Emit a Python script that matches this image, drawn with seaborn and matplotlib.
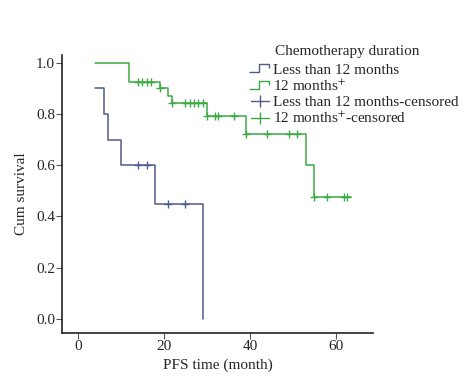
import matplotlib
matplotlib.use("Agg")
import numpy as np, pandas as pd
import matplotlib.pyplot as plt
import seaborn as sns
from matplotlib.lines import Line2D
from matplotlib.path import Path

# Kaplan-Meier steps
short_t = [4, 6, 7, 10, 18, 29]
short_s = [0.9, 0.8, 0.7, 0.6, 0.45, 0.0]
short_cens_t = [14, 16, 21, 25]
short_cens_s = [0.6, 0.6, 0.45, 0.45]

long_t = [4, 12, 19, 21, 22, 30, 39, 53, 55, 63.4]
long_s = [1.0, 0.925, 0.9, 0.868, 0.843, 0.79, 0.72, 0.6, 0.475, 0.475]
long_cens_t = [14, 15, 16, 17, 19, 22, 25, 26, 27, 28, 29, 30, 32, 32.6, 36.3,
               39, 44, 49, 51, 55, 58, 62, 62.5]
long_cens_s = [0.925]*4 + [0.9] + [0.843]*6 + [0.79]*4 + [0.72]*4 + [0.475]*4

BLUE = "#4f5b8a"; GREEN = "#3caa44"

sns.set_theme(style="white")
plt.rcParams.update({"font.family": ["Liberation Serif", "DejaVu Serif"],
                     "font.size": 11, "mathtext.fontset": "stix"})

fig = plt.figure(figsize=(4.75, 3.79), dpi=100)
ax = fig.add_axes([0.1305, 0.1214, 0.6545, 0.7336])

sns.lineplot(x=short_t, y=short_s, ax=ax, color=BLUE, lw=1.1, drawstyle="steps-post",
             estimator=None, sort=False)
sns.lineplot(x=long_t, y=long_s, ax=ax, color=GREEN, lw=1.1, drawstyle="steps-post",
             estimator=None, sort=False)
sns.scatterplot(x=short_cens_t, y=short_cens_s, ax=ax, marker="+", color=BLUE, s=40,
                linewidth=1.0, zorder=3)
sns.scatterplot(x=long_cens_t, y=long_cens_s, ax=ax, marker="+", color=GREEN, s=40,
                linewidth=1.0, zorder=3)

ax.set_xlim(-3.7, 68.6)
ax.set_ylim(-0.055, 1.03)
ax.set_xticks([0, 20, 40, 60])
ax.set_yticks([0.0, 0.2, 0.4, 0.6, 0.8, 1.0])
ax.set_yticklabels(["0.0", "0.2", "0.4", "0.6", "0.8", "1.0"])
ax.set_xlabel("PFS time (month)", fontsize=11, labelpad=4)
ax.set_ylabel("Cum survival", fontsize=11, labelpad=6)
sns.despine(ax=ax)
for s in ["left", "bottom"]:
    ax.spines[s].set_color("#222222"); ax.spines[s].set_linewidth(1.2)
ax.tick_params(axis="both", direction="out", length=4, width=0.8, color="#555555",
               labelsize=11, pad=1, left=True, bottom=True)

step = Path([(-1, -0.35), (-0.1, -0.35), (-0.1, 0.35), (0.8, 0.35), (0.8, 0.0)],
            [Path.MOVETO, Path.LINETO, Path.LINETO, Path.LINETO, Path.LINETO])
handles = [Line2D([], [], ls="none", marker=step, ms=16, mec=BLUE, mfc="none", mew=1.0),
           Line2D([], [], ls="none", marker=step, ms=16, mec=GREEN, mfc="none", mew=1.0),
           Line2D([], [], ls="-", lw=1.0, color=BLUE, marker="|", ms=8, mew=1.0),
           Line2D([], [], ls="-", lw=1.0, color=GREEN, marker="|", ms=8, mew=1.0)]
labels = ["Less than 12 months", "12 months$^{+}$", "Less than 12 months-censored",
          "12 months$^{+}$-censored"]
fig.text(0.579, 0.863, "Chemotherapy duration", fontsize=11, va="center", ha="left")
leg = fig.legend(handles, labels, loc="upper left",
                 bbox_to_anchor=(0.505, 0.862), frameon=False, fontsize=11,
                 handlelength=1.2, handletextpad=0.3,
                 labelspacing=0.12, borderpad=0.2)

fig.savefig("out.png", dpi=100)
